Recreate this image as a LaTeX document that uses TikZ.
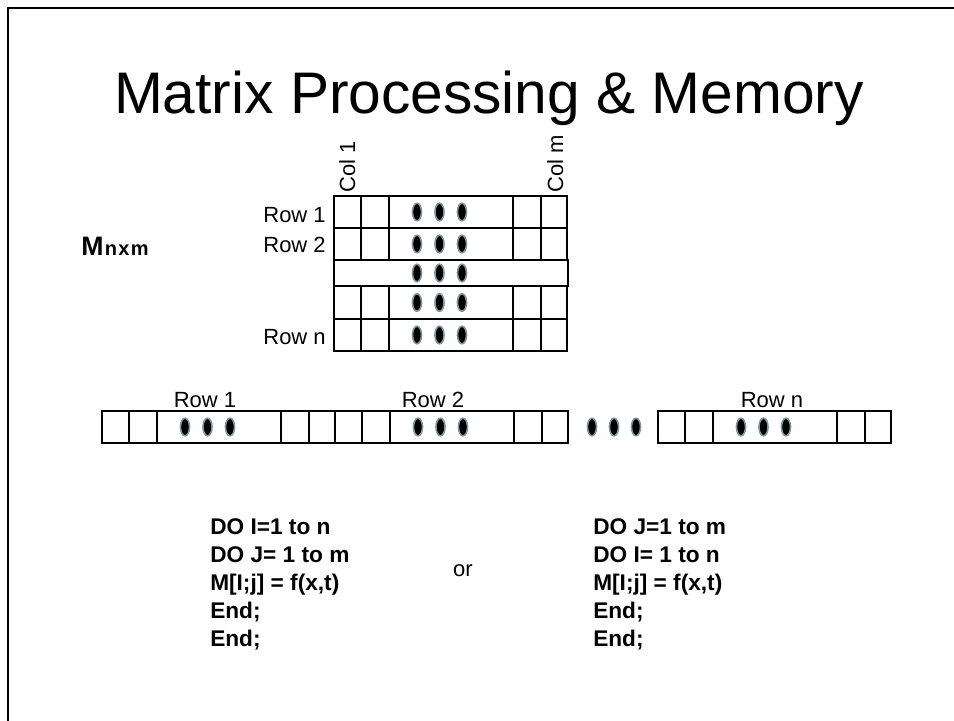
\documentclass[tikz,border=0pt]{standalone}
\usepackage{fontspec}
\setmainfont{Liberation Sans}
\usepackage{xcolor}
\definecolor{dotrim}{RGB}{126,152,154}

% one row of the matrix: left x, top y, height
\newcommand{\memrow}[3]{%
    \draw[cellline] (#1,#2) rectangle ++(233,#3);
    \foreach \cx in {27,55,179,207}
        \draw[cellline] (#1+\cx,#2) -- ++(0,#3);
    \foreach \dx in {83,105.5,128}
        \draw[dotmark] (#1+\dx,#2+#3/2) ellipse [x radius=3.4pt, y radius=6.6pt];
}

\begin{document}
\begin{tikzpicture}[x=0.75pt, y=-0.75pt,
    cellline/.style={line width=1.5pt},
    dotmark/.style={fill=black, draw=dotrim, line width=1.2pt},
    lbl/.style={font=\fontsize{16.5}{19}\selectfont, inner sep=0pt},
    code/.style={font=\fontsize{17}{20.85}\selectfont\bfseries, align=left, inner sep=0pt, anchor=base west}]
    \useasboundingbox (0,0) rectangle (954,721);
    \draw[line width=2pt] (8,721) -- (8,8) -- (954,8);

    \node[inner sep=0pt, anchor=base, font=\fontsize{44}{50}\selectfont] (title) at (489,113) {Matrix Processing \& Memory};

    % the matrix, row by row
    \memrow{334}{196}{32}
    \memrow{334}{228}{32}
    \draw[cellline] (334,260) rectangle (567.5,286);
    \foreach \dx in {83,105.5,128}
        \draw[dotmark] (334+\dx,273) ellipse [x radius=3.4pt, y radius=6.6pt];
    \memrow{334}{286}{33}
    \memrow{334}{319}{32}

    \node[lbl, anchor=base west, rotate=90] (col1) at (355,193) {Col 1};
    \node[lbl, anchor=base west, rotate=90] (colm) at (563,193) {Col m};
    \node[lbl, anchor=base east] (row1) at (326,222) {Row 1};
    \node[lbl, anchor=base east] (row2) at (326,252) {Row 2};
    \node[lbl, anchor=base east] (rown) at (326,344) {Row n};

    \node[inner sep=0pt, anchor=base west] (mname) at (81,255)
        {\fontsize{20}{24}\selectfont\bfseries M\kern1pt\fontsize{15}{18}\selectfont n\kern1pt x\kern1pt m};

    % the same rows laid out in memory
    \memrow{102}{411}{32}
    \memrow{335}{411}{32}
    \memrow{658}{411}{32}
    \foreach \dx in {592,614,636}
        \draw[dotmark] (\dx,427) ellipse [x radius=3.4pt, y radius=6.6pt];

    \node[lbl, anchor=base] (srow1) at (205,407) {Row 1};
    \node[lbl, anchor=base] (srow2) at (433,407) {Row 2};
    \node[lbl, anchor=base] (srown) at (772,407) {Row n};

    % loop orders
    \node[code] (loopij) at (210,646) {DO I=1 to n\\DO J= 1 to m\\M[I;j] = f(x,t)\\End;\\End;};
    \node[lbl, anchor=base] (orword) at (463,576) {or};
    \node[code] (loopji) at (593,646) {DO J=1 to m\\DO I= 1 to n\\M[I;j] = f(x,t)\\End;\\End;};
\end{tikzpicture}
\end{document}
